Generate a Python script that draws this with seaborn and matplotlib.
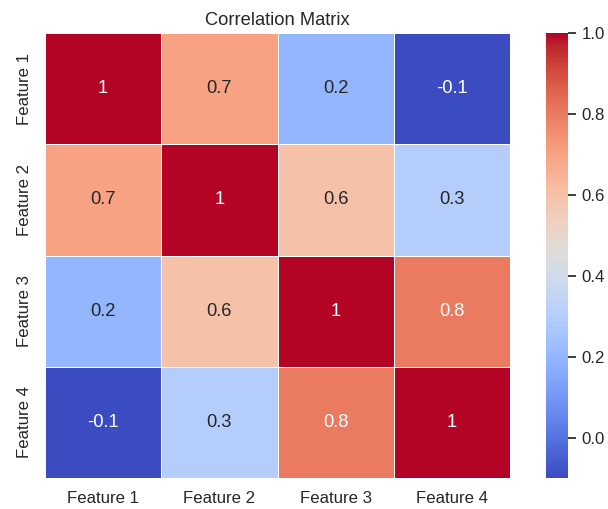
import numpy as np
import pandas as pd
import matplotlib.pyplot as plt
import seaborn as sns

features = ["Feature 1", "Feature 2", "Feature 3", "Feature 4"]
row_f1 = [1.0, 0.7, 0.2, -0.1]
row_f2 = [0.7, 1.0, 0.6, 0.3]
row_f3 = [0.2, 0.6, 1.0, 0.8]
row_f4 = [-0.1, 0.3, 0.8, 1.0]

corr = pd.DataFrame([row_f1, row_f2, row_f3, row_f4], index=features, columns=features)

sns.set_theme(style="white", font_scale=1.1)
plt.rcParams["font.family"] = ["Liberation Sans", "DejaVu Sans"]
fig = plt.figure(figsize=(6.08, 5.09), dpi=100)
ax = fig.add_axes([0.074, 0.061, 0.765, 0.874])
cax = fig.add_axes([0.898, 0.061, 0.037, 0.874])

sns.heatmap(corr, annot=True, cmap="coolwarm", linewidths=0.5, linecolor="white",
            ax=ax, cbar_ax=cax)
ax.set_title("Correlation Matrix")

fig.savefig("out.png", dpi=100)
